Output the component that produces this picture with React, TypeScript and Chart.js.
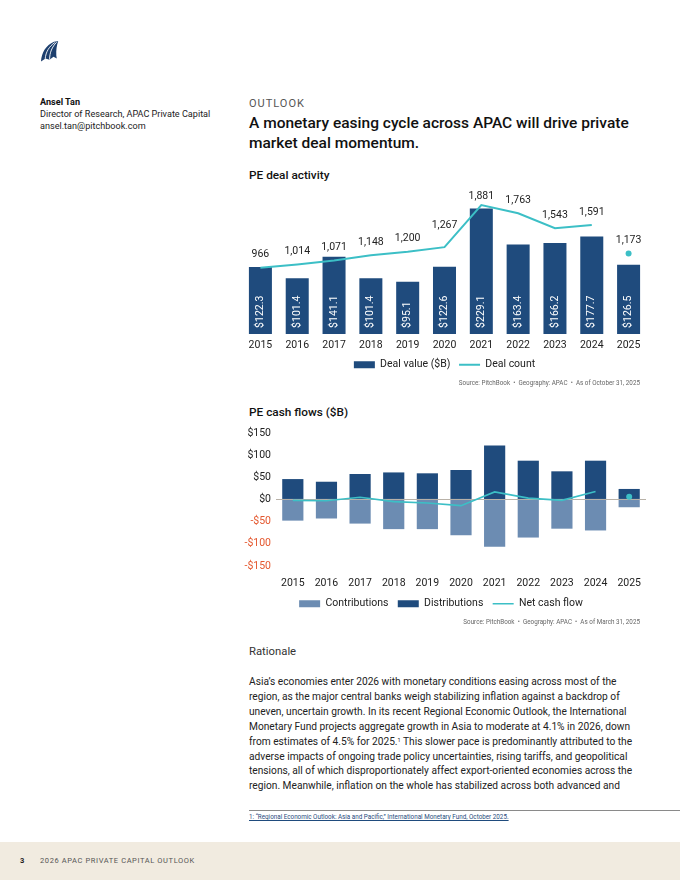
import React, { useEffect, useRef } from "react";
import { Chart, registerables } from "chart.js";

Chart.register(...registerables);

const years = ["2015", "2016", "2017", "2018", "2019", "2020", "2021", "2022", "2023", "2024", "2025"];
const dealValue = [122.3, 101.4, 141.1, 101.4, 95.1, 122.6, 229.1, 163.4, 166.2, 177.7, 126.5];
const dealCount = [966, 1014, 1071, 1148, 1200, 1267, 1881, 1763, 1543, 1591, 1173];
const contributions = [-47.8, -43, -54.5, -67, -67, -80.8, -106.5, -86, -66, -70, -17.6];
const distributions = [46, 40, 57.5, 61, 59, 66.5, 122, 87.5, 63.5, 87.5, 23.7];
const netCashFlow = [-2, -3, 5, -5, -8, -14, 17, 3, -2, 18, 6];
const cashTicks = [150, 100, 50, 0, -50, -100, -150];

const NAVY = "#1f4b7d";
const STEEL = "#6c8cb2";
const TEAL = "#3cbfc6";
const ORANGE = "#e4572e";
const FONT = "Roboto";

// split the last (partial-year) point off the line so it shows as a lone dot
const lineOnly = (arr: number[]) => arr.map((v, i) => (i < arr.length - 1 ? v : null));
const dotOnly = (arr: number[]) => arr.map((v, i) => (i === arr.length - 1 ? v : null));

function legendLabels(padding: number, gap: string) {
  return {
    usePointStyle: true,
    pointStyleWidth: 21,
    boxHeight: 7,
    padding,
    color: "#222",
    font: { family: FONT, size: 10.5 },
    generateLabels: (chart: any) => {
      const items = (Chart.defaults.plugins.legend.labels as any)
        .generateLabels(chart)
        .filter((it: any) => !String(it.text).startsWith("_"))
        .sort((a: any, b: any) => a.datasetIndex - b.datasetIndex);
      return items.map((it: any, idx: number) => (idx < items.length - 1 ? { ...it, text: it.text + gap } : it));
    },
  };
}

// label lift above the point: steeper neighbours push a label higher / lower
const labelLift = (i: number) => (i === 5 ? 22 : i === 6 ? 8.5 : 13);

function DealChart() {
  const ref = useRef<HTMLCanvasElement>(null);
  useEffect(() => {
    const labelsPlugin = {
      id: "dealLabels",
      afterDatasetsDraw(chart: any) {
        const ctx = chart.ctx;
        const yScale = chart.scales.y;
        const base = yScale.getPixelForValue(0);
        ctx.save();
        ctx.font = `10.5px ${FONT}`;
        ctx.fillStyle = "#ffffff";
        chart.getDatasetMeta(0).data.forEach((bar: any, i: number) => {
          ctx.save();
          ctx.translate(bar.x, base - 6);
          ctx.rotate(-Math.PI / 2);
          ctx.textAlign = "left";
          ctx.textBaseline = "middle";
          ctx.fillText("$" + dealValue[i].toFixed(1), 0, 0);
          ctx.restore();
        });
        ctx.fillStyle = "#222";
        ctx.textAlign = "center";
        ctx.textBaseline = "middle";
        [1, 2].forEach((di) => {
          const data = chart.data.datasets[di].data;
          chart.getDatasetMeta(di).data.forEach((pt: any, i: number) => {
            if (data[i] == null) return;
            ctx.fillText(Number(data[i]).toLocaleString("en-US"), pt.x, pt.y - labelLift(i));
          });
        });
        ctx.restore();
      },
    };
    const chart = new Chart(ref.current!, {
      type: "bar",
      data: {
        labels: years,
        datasets: [
          {
            type: "bar",
            label: "Deal value ($B)",
            data: dealValue,
            backgroundColor: NAVY,
            borderWidth: 0,
            yAxisID: "y",
            barPercentage: 0.625,
            categoryPercentage: 1,
            order: 3,
            pointStyle: "rect",
          } as any,
          {
            type: "line",
            label: "Deal count",
            data: lineOnly(dealCount),
            borderColor: TEAL,
            backgroundColor: TEAL,
            borderWidth: 2,
            pointRadius: 0,
            yAxisID: "y1",
            order: 2,
            pointStyle: "line",
          } as any,
          {
            type: "line",
            label: "_dot",
            data: dotOnly(dealCount),
            showLine: false,
            pointRadius: 3,
            pointBorderWidth: 0,
            pointBackgroundColor: TEAL,
            borderColor: TEAL,
            yAxisID: "y1",
            order: 1,
          } as any,
        ],
      },
      options: {
        animation: false,
        responsive: false,
        maintainAspectRatio: false,
        layout: { autoPadding: false, padding: { top: 17, left: 0, right: 0, bottom: 0 } },
        plugins: {
          legend: { position: "bottom", labels: legendLabels(6, "\u2005") as any },
          tooltip: { enabled: false },
        },
        scales: {
          x: {
            grid: { display: false },
            border: { display: false },
            ticks: { color: "#222", font: { family: FONT, size: 10.5 }, padding: -3 },
            afterFit: (axis: any) => {
              axis.height += 5;
            },
          },
          y: { display: false, min: 0, max: 250 },
          y1: { display: false, min: 0, max: 2000 },
        },
      },
      plugins: [labelsPlugin],
    });
    return () => chart.destroy();
  }, []);
  return <canvas ref={ref} width={405} height={200} style={{ position: "absolute", left: 242, top: 180 }} />;
}

function CashChart() {
  const ref = useRef<HTMLCanvasElement>(null);
  useEffect(() => {
    const chart = new Chart(ref.current!, {
      type: "bar",
      data: {
        labels: years,
        datasets: [
          {
            type: "bar",
            label: "Contributions",
            data: contributions,
            backgroundColor: STEEL,
            borderWidth: 0,
            stack: "cf",
            barPercentage: 0.63,
            categoryPercentage: 1,
            order: 3,
            pointStyle: "rect",
          } as any,
          {
            type: "bar",
            label: "Distributions",
            data: distributions,
            backgroundColor: NAVY,
            borderWidth: 0,
            stack: "cf",
            barPercentage: 0.63,
            categoryPercentage: 1,
            order: 3,
            pointStyle: "rect",
          } as any,
          {
            type: "line",
            label: "Net cash flow",
            data: lineOnly(netCashFlow),
            borderColor: TEAL,
            backgroundColor: TEAL,
            borderWidth: 1.6,
            pointRadius: 0,
            stack: "net",
            order: 2,
            pointStyle: "line",
          } as any,
          {
            type: "line",
            label: "_dot",
            data: dotOnly(netCashFlow),
            showLine: false,
            pointRadius: 3,
            pointBorderWidth: 0,
            pointBackgroundColor: TEAL,
            borderColor: TEAL,
            stack: "netdot",
            order: 1,
          } as any,
        ],
      },
      options: {
        animation: false,
        responsive: false,
        maintainAspectRatio: false,
        layout: { autoPadding: false, padding: { top: 13, left: 0, right: 0, bottom: 0 } },
        plugins: {
          legend: { position: "bottom", labels: legendLabels(4, "\u2002") as any },
          tooltip: { enabled: false },
        },
        scales: {
          x: {
            stacked: true,
            grid: { display: false },
            border: { display: false },
            ticks: { color: "#222", font: { family: FONT, size: 10.5 }, padding: 3 },
            afterFit: (axis: any) => {
              axis.height += 2;
            },
          },
          y: {
            stacked: true,
            min: cashTicks[cashTicks.length - 1],
            max: cashTicks[0],
            afterFit: (axis: any) => {
              axis.width = 40;
            },
            afterBuildTicks: (axis: any) => {
              axis.ticks = cashTicks.map((v) => ({ value: v }));
            },
            grid: {
              drawTicks: false,
              color: (c: any) => (c.tick && c.tick.value === 0 ? "#b9b2a8" : "rgba(0,0,0,0)"),
              lineWidth: 1,
            },
            border: { display: false },
            ticks: {
              padding: 5,
              font: { family: FONT, size: 10.5 },
              color: (c: any) => (c.tick && c.tick.value < 0 ? ORANGE : "#222"),
              callback: (v: any) => (Number(v) < 0 ? `-$${-Number(v)}` : `$${v}`),
            },
          },
        },
      },
    });
    return () => chart.destroy();
  }, []);
  return <canvas ref={ref} width={410} height={199} style={{ position: "absolute", left: 236, top: 420 }} />;
}

const paragraph = [
  "Asia\u2019s economies enter 2026 with monetary conditions easing across most of the",
  "region, as the major central banks weigh stabilizing inflation against a backdrop of",
  "uneven, uncertain growth. In its recent Regional Economic Outlook, the International",
  "Monetary Fund projects aggregate growth in Asia to moderate at 4.1% in 2026, down",
  "FOOTNOTE",
  "adverse impacts of ongoing trade policy uncertainties, rising tariffs, and geopolitical",
  "tensions, all of which disproportionately affect export-oriented economies across the",
  "region. Meanwhile, inflation on the whole has stabilized across both advanced and",
];

function abs(left: number, top: number, extra: React.CSSProperties = {}): React.CSSProperties {
  return { position: "absolute", left, top, whiteSpace: "nowrap", fontFamily: FONT, margin: 0, ...extra };
}

export default function App() {
  const lh = 14.86;
  return (
    <div style={{ position: "absolute", left: 0, top: 0, width: 680, height: 880, background: "#fff", overflow: "hidden", fontFamily: FONT }}>
      <svg style={{ position: "absolute", left: 40, top: 40 }} width="19" height="23" viewBox="0 0 19 23">
        <path
          d="M1 21.5 C1.5 13 6 5 14 1.8 C15.5 1.2 17 1 18.2 1.2 C16.8 5 16 10 16.3 15.5 L16.8 18.5 L13.5 16.8 L9.5 19.8 L5.5 18.6 Z"
          fill="#1d3f6e"
        />
        <path d="M5.2 18.8 C5.8 12 9 6.5 14.8 2.6" stroke="#fff" strokeWidth="0.9" fill="none" />
        <path d="M9.6 19.6 C9.6 12.5 12 7 16.6 2.2" stroke="#fff" strokeWidth="0.9" fill="none" />
      </svg>

      <div style={abs(40, 96, { fontSize: 9.1, fontWeight: 700, color: "#111", lineHeight: "12px" })}>Ansel Tan</div>
      <div style={abs(40, 109, { fontSize: 9.1, color: "#222", lineHeight: "11.7px" })}>
        Director of Research, APAC Private Capital
        <br />
        ansel.tan@pitchbook.com
      </div>

      <div style={abs(249, 96, { fontSize: 11, letterSpacing: 1, color: "#555", lineHeight: "16px" })}>OUTLOOK</div>
      <div style={abs(249, 113, { fontSize: 15.5, fontWeight: 500, color: "#111", lineHeight: "20px" })}>
        A monetary easing cycle across APAC will drive private
        <br />
        market deal momentum.
      </div>

      <div style={abs(249, 167, { fontSize: 11.8, fontWeight: 500, color: "#111", lineHeight: "16px" })}>PE deal activity</div>
      <DealChart />
      <div style={abs(640, 379, { fontSize: 6.3, color: "#666", lineHeight: "9px", transform: "translateX(-100%)" })}>
        Source: PitchBook&nbsp;&nbsp;•&nbsp;&nbsp;Geography: APAC&nbsp;&nbsp;•&nbsp;&nbsp;As of October 31, 2025
      </div>

      <div style={abs(249, 404, { fontSize: 11.8, fontWeight: 500, color: "#111", lineHeight: "16px" })}>PE cash flows ($B)</div>
      <CashChart />
      <div style={abs(640, 618, { fontSize: 6.3, color: "#666", lineHeight: "9px", transform: "translateX(-100%)" })}>
        Source: PitchBook&nbsp;&nbsp;•&nbsp;&nbsp;Geography: APAC&nbsp;&nbsp;•&nbsp;&nbsp;As of March 31, 2025
      </div>

      <div style={abs(249, 644, { fontSize: 11.3, color: "#333", lineHeight: "16px" })}>Rationale</div>

      {paragraph.map((line, i) => (
        <div key={i} style={abs(249, 675.3 + i * lh, { fontSize: 10.2, color: "#222", lineHeight: `${lh}px` })}>
          {line === "FOOTNOTE" ? (
            <>
              from estimates of 4.5% for 2025.<sup style={{ fontSize: 5.5, verticalAlign: "top", lineHeight: "10px" }}>1</sup> This slower pace is predominantly attributed to the
            </>
          ) : (
            line
          )}
        </div>
      ))}

      <div style={{ position: "absolute", left: 249, top: 810, width: 431, height: 1, background: "#8a8a8a" }} />
      <div style={abs(249, 813, { fontSize: 6.3, color: "#1f4b7d", lineHeight: "9px", textDecoration: "underline" })}>
        1: “Regional Economic Outlook: Asia and Pacific,” International Monetary Fund, October 2025.
      </div>

      <div style={{ position: "absolute", left: 0, top: 842, width: 680, height: 38, background: "#f1ebe0" }} />
      <div style={abs(20, 855, { fontSize: 7.5, fontWeight: 700, color: "#222", lineHeight: "12px" })}>3</div>
      <div style={abs(40, 855, { fontSize: 7.5, color: "#555", letterSpacing: 0.6, lineHeight: "12px" })}>
        2026 APAC PRIVATE CAPITAL OUTLOOK
      </div>
    </div>
  );
}
